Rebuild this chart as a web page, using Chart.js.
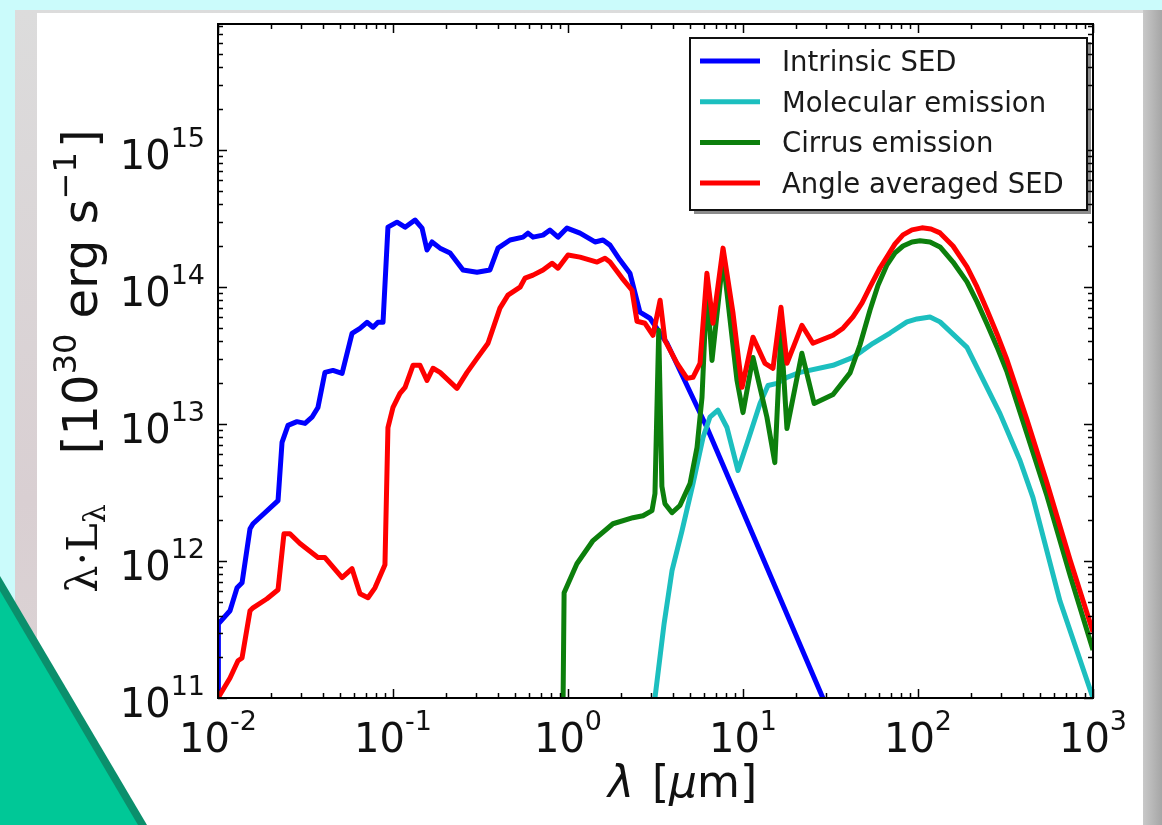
<!DOCTYPE html>
<html>
<head>
<meta charset="utf-8">
<title>SED components</title>
<script src="https://cdn.jsdelivr.net/npm/chart.js@4.4.1/dist/chart.umd.min.js"></script>
<style>
  html, body { margin: 0; width: 1162px; height: 825px; overflow: hidden; background: #cbfbfb; }
  .panel { position: absolute; left: 15px; top: 10px; width: 1147px; height: 815px;
    background: linear-gradient(to bottom, #dcdcdc, #d9cfd2 60%, #ddd6d6); }
  .panel-right { position: absolute; left: 1143px; top: 10px; width: 19px; height: 815px;
    background: linear-gradient(to right, #c8c8c8, #a6a6a6); }
  .sheet { position: absolute; left: 37px; top: 13px; width: 1106px; height: 812px; background: #fff; }
  .tri-dark { position: absolute; left: 0; top: 0; width: 1162px; height: 825px; background: #0b8f6c;
    clip-path: polygon(0 576px, 147px 825px, 0 825px); z-index: 3; }
  .tri { position: absolute; left: 0; top: 0; width: 1162px; height: 825px; background: #00c897;
    clip-path: polygon(0 591px, 138px 825px, 0 825px); z-index: 4; }
  canvas { position: absolute; left: 0; top: 0; z-index: 2; }
</style>
</head>
<body>
<div class="panel"></div>
<div class="panel-right"></div>
<div class="sheet"></div>
<canvas id="sed" width="1162" height="825"></canvas>
<div class="tri-dark"></div>
<div class="tri"></div>
<script>
// ---- data (lambda in micron, L in 1e30 erg/s) ----
const seriesLabels = ['Intrinsic SED', 'Molecular emission', 'Cirrus emission', 'Angle averaged SED'];
const seriesColors = ['#0000ff', '#1cbfbf', '#0c7f0c', '#ff0000'];

const intrinsicLambda = [0.0100, 0.01005, 0.01171, 0.01285, 0.01372, 0.01524, 0.01585, 0.02203, 0.02322, 0.02512,
  0.02826, 0.03141, 0.03444, 0.03725, 0.04084, 0.04539, 0.05117, 0.05834, 0.06478, 0.07101, 0.07691, 0.08204,
  0.08770, 0.09357, 0.1054, 0.1172, 0.1336, 0.1465, 0.1564, 0.1671, 0.1857, 0.2119, 0.2512, 0.3020, 0.3581,
  0.3981, 0.4665, 0.5534, 0.5906, 0.6310, 0.7197, 0.7888, 0.8770, 0.9869, 1.171, 1.427, 1.585, 1.738, 1.982,
  2.259, 2.576, 2.94, 3.27, 3.68, 6.22, 28.6, 35];
const intrinsicL = [8e10, 3.48e11, 4.33e11, 6.37e11, 6.93e11, 1.72e12, 1.87e12, 2.76e12, 7.33e12, 9.76e12,
  1.04e13, 1.01e13, 1.12e13, 1.32e13, 2.38e13, 2.46e13, 2.34e13, 4.59e13, 4.99e13, 5.52e13, 5.08e13, 5.52e13,
  5.52e13, 2.73e14, 2.97e14, 2.73e14, 3.08e14, 2.69e14, 1.86e14, 2.13e14, 1.92e14, 1.77e14, 1.33e14, 1.28e14, 1.33e14,
  1.92e14, 2.20e14, 2.31e14, 2.47e14, 2.31e14, 2.39e14, 2.60e14, 2.31e14, 2.69e14, 2.47e14, 2.13e14, 2.20e14, 2.02e14, 1.57e14,
  1.26e14, 6.54e13, 5.91e13, 4.83e13, 3.88e13, 9.42e12, 1.0e11, 5.3e10];

const molecularLambda = [3.14, 3.54, 3.93, 4.48, 5.18, 5.91, 6.47, 7.19, 8.10, 9.36, 10.54, 12.51, 13.89, 15.64,
  17.83, 21.17, 32.7, 42.5, 55.3, 69.2, 86.5, 98.7, 117.1, 133.6, 190.5, 294.1, 382.7, 454, 647, 1000];
const molecularL = [1.0e11, 3.48e11, 8.49e11, 1.66e12, 3.67e12, 7.96e12, 1.12e13, 1.26e13, 9.42e12, 4.57e12, 7.20e12,
  1.41e13, 1.91e13, 1.98e13, 2.19e13, 2.38e13, 2.68e13, 3.06e13, 3.88e13, 4.61e13, 5.56e13, 5.84e13, 6.04e13, 5.56e13,
  3.62e13, 1.19e13, 5.41e12, 2.90e12, 5.12e11, 1.0e11];

const cirrusLambda = [0.936, 0.950, 1.124, 1.390, 1.807, 2.351, 2.683, 3.02, 3.14, 3.30, 3.44, 3.58, 3.93, 4.36, 4.98,
  5.46, 5.83, 6.22, 6.65, 7.69, 9.24, 10.0, 11.40, 12.5, 13.7, 15.2, 16.48, 17.83, 21.7, 25.5, 32.7, 40.9, 46.6,
  53.2, 59.1, 66.5, 73.9, 82.1, 92.4, 102.7, 117.1, 133.6, 158.5, 190.5, 217.4, 247.9, 282.7, 322.6, 419.8, 546,
  739, 1000];
const cirrusL = [8e10, 5.86e11, 9.55e11, 1.41e12, 1.87e12, 2.07e12, 2.14e12, 2.33e12, 3.10e12, 4.83e13, 3.5e12, 2.62e12,
  2.25e12, 2.54e12, 3.67e12, 6.73e12, 1.56e13, 1.03e14, 2.91e13, 1.62e14, 2.08e13, 1.21e13, 3.06e13, 1.85e13,
  1.12e13, 5.22e12, 4.83e13, 9.27e12, 3.28e13, 1.41e13, 1.64e13, 2.36e13, 3.77e13, 6.79e13, 1.03e14, 1.45e14,
  1.77e14, 1.99e14, 2.13e14, 2.17e14, 2.13e14, 1.96e14, 1.52e14, 1.09e14, 7.78e13, 5.37e13, 3.65e13, 2.40e13,
  8.45e12, 2.98e12, 7.91e11, 2.24e11];

const averagedLambda = [0.0100, 0.01171, 0.01301, 0.01372, 0.01524, 0.01585, 0.01905, 0.02203, 0.02382, 0.02576,
  0.02941, 0.03725, 0.04084, 0.05117, 0.05834, 0.06478, 0.07197, 0.07889, 0.08995, 0.09357, 0.1000, 0.1096, 0.1172,
  0.1301, 0.1426, 0.1564, 0.1693, 0.1857, 0.2321, 0.2649, 0.3020, 0.3490, 0.4084, 0.4539, 0.5321, 0.5679, 0.6310,
  0.7197, 0.8110, 0.8770, 1.000, 1.171, 1.466, 1.627, 1.738, 2.036, 2.321, 2.479, 2.754, 3.06, 3.36, 3.58, 4.20,
  4.79, 5.18, 5.68, 6.22, 6.74, 7.69, 8.77, 9.87, 11.40, 13.36, 14.84, 16.48, 17.83, 21.7, 25.1, 32.7, 37.3, 42.5,
  47.9, 53.2, 60.7, 66.5, 73.9, 82.1, 92.4, 105.4, 118.7, 133.6, 158.5, 190.5, 217.4, 247.9, 282.7, 322.6, 420,
  546, 739, 1000];
const averagedL = [1.00e11, 1.40e11, 1.87e11, 1.96e11, 4.33e11, 4.55e11, 5.30e11, 6.17e11, 1.58e12, 1.58e12,
  1.34e12, 1.06e12, 1.06e12, 7.55e11, 8.78e11, 5.77e11, 5.39e11, 6.37e11, 9.40e11, 9.42e12, 1.32e13, 1.67e13, 1.85e13,
  2.68e13, 2.68e13, 2.08e13, 2.55e13, 2.38e13, 1.82e13, 2.38e13, 3.01e13, 3.88e13, 7.00e13, 8.71e13, 9.96e13, 1.16e14, 1.22e14,
  1.33e14, 1.49e14, 1.37e14, 1.71e14, 1.65e14, 1.52e14, 1.62e14, 1.52e14, 1.16e14, 9.46e13, 5.62e13, 5.43e13, 4.44e13, 8.00e13, 4.08e13, 2.77e13,
  2.15e13, 2.19e13, 2.77e13, 1.26e14, 5.43e13, 1.92e14, 6.43e13, 1.85e13, 4.30e13, 2.77e13, 2.55e13, 7.11e13, 2.77e13, 5.25e13, 3.88e13, 4.44e13, 5.0e13, 6.04e13,
  7.64e13, 1.00e14, 1.38e14, 1.66e14, 2.06e14, 2.40e14, 2.61e14, 2.70e14, 2.65e14, 2.48e14, 1.99e14, 1.40e14, 1.00e14, 6.79e13, 4.54e13, 2.93e13, 1.07e13,
  3.71e12, 1.02e12, 3.03e11];

const xTickExponents = [-2, -1, 0, 1, 2, 3];
const yTickExponents = [11, 12, 13, 14, 15];
const xRange = [1e-2, 1e3];
const yRange = [1e11, 8.3e15];

// ---- helpers ----
const SANS = '"DejaVu Sans", "Liberation Sans", sans-serif';
const SERIF = '"DejaVu Serif", "Liberation Serif", serif';

function toPoints(xs, ys) {
  return xs.map((x, i) => ({ x: x, y: ys[i] }));
}

// a run of text pieces on one baseline, each piece may be raised / lowered
function drawRuns(ctx, runs, x, y, align) {
  let total = 0;
  runs.forEach(r => { ctx.font = r.font; r.w = ctx.measureText(r.text).width + (r.gap || 0); total += r.w; });
  let cx = align === 'center' ? x - total / 2 : (align === 'right' ? x - total : x);
  runs.forEach(r => {
    ctx.font = r.font;
    ctx.fillText(r.text, cx + (r.gap || 0), y + (r.dy || 0));
    cx += r.w;
  });
}

function powerLabel(exp) {
  return [
    { text: '10', font: '40px ' + SANS },
    { text: String(exp), font: '27px ' + SANS, dy: -22 }
  ];
}

function logTicks(min, max) {
  const out = [];
  for (let e = Math.floor(Math.log10(min)); e <= Math.ceil(Math.log10(max)); e++) {
    for (let m = 1; m < 10; m++) {
      const v = m * Math.pow(10, e);
      if (v >= min * 0.999 && v <= max * 1.001) out.push({ v: v, major: m === 1 });
    }
  }
  return out;
}

// frame, inward ticks on all four sides, tick labels, axis titles
const axesDecor = {
  id: 'axesDecor',
  afterDatasetsDraw(chart) {
    const ctx = chart.ctx;
    const a = chart.chartArea;
    const xs = chart.scales.x, ys = chart.scales.y;
    ctx.save();
    ctx.strokeStyle = '#000';
    ctx.lineWidth = 1.5;
    logTicks(xs.min, xs.max).forEach(t => {
      const px = Math.round(xs.getPixelForValue(t.v)) + 0.5;
      const len = t.major ? 9 : 5;
      ctx.beginPath();
      ctx.moveTo(px, a.bottom); ctx.lineTo(px, a.bottom - len);
      ctx.moveTo(px, a.top); ctx.lineTo(px, a.top + len);
      ctx.stroke();
    });
    logTicks(ys.min, ys.max).forEach(t => {
      const py = Math.round(ys.getPixelForValue(t.v)) + 0.5;
      const len = t.major ? 9 : 5;
      ctx.beginPath();
      ctx.moveTo(a.left, py); ctx.lineTo(a.left + len, py);
      ctx.moveTo(a.right, py); ctx.lineTo(a.right - len, py);
      ctx.stroke();
    });
    ctx.lineWidth = 2;
    ctx.strokeRect(a.left, a.top, a.right - a.left, a.bottom - a.top);

    ctx.fillStyle = '#111';
    ctx.textBaseline = 'alphabetic';
    xTickExponents.forEach(e => {
      const px = xs.getPixelForValue(Math.pow(10, e));
      drawRuns(ctx, powerLabel(e), px, a.bottom + 54, 'center');
    });
    yTickExponents.forEach(e => {
      const py = ys.getPixelForValue(Math.pow(10, e));
      drawRuns(ctx, powerLabel(e), a.left - 13, py + 19, 'right');
    });

    // x title (sits a little right of the axes centre, as in the source figure)
    drawRuns(ctx, [
      { text: 'λ', font: 'italic 44px ' + SANS },
      { text: '[', font: '44px ' + SANS, gap: 18 },
      { text: 'μ', font: 'italic 44px ' + SANS },
      { text: 'm]', font: '44px ' + SANS }
    ], (a.left + a.right) / 2 + 27, a.bottom + 99, 'center');

    // y title, rotated
    ctx.save();
    ctx.translate(a.left - 121, (a.top + a.bottom) / 2);
    ctx.rotate(-Math.PI / 2);
    drawRuns(ctx, [
      { text: 'λ·L', font: '43px ' + SERIF },
      { text: 'λ', font: '30px ' + SERIF, dy: 8 },
      { text: '[10', font: '48px ' + SANS, gap: 50 },
      { text: '30', font: '32px ' + SANS, dy: -21 },
      { text: ' erg s', font: '48px ' + SANS },
      { text: '−1', font: '32px ' + SANS, dy: -21 },
      { text: ']', font: '48px ' + SANS, gap: 4 }
    ], 0, 0, 'center');
    ctx.restore();
    ctx.restore();
  }
};

// legend box in the upper right of the axes
const boxLegend = {
  id: 'boxLegend',
  afterDraw(chart) {
    const ctx = chart.ctx;
    const a = chart.chartArea;
    const right = a.right - 6, top = a.top + 14;
    const w = 397, h = 172;
    const left = right - w;
    ctx.save();
    ctx.fillStyle = 'rgba(0,0,0,0.45)';
    ctx.fillRect(left + 4, top + 4, w, h);
    ctx.fillStyle = '#fff';
    ctx.fillRect(left, top, w, h);
    ctx.strokeStyle = '#111';
    ctx.lineWidth = 2;
    ctx.strokeRect(left, top, w, h);
    ctx.font = '27.5px ' + SANS;
    ctx.textBaseline = 'alphabetic';
    chart.data.datasets.forEach((ds, i) => {
      const y = top + 23 + i * 40.7;
      ctx.strokeStyle = ds.borderColor;
      ctx.lineWidth = 5;
      ctx.beginPath();
      ctx.moveTo(left + 10, y); ctx.lineTo(left + 70, y);
      ctx.stroke();
      ctx.fillStyle = '#1a1a1a';
      ctx.fillText(ds.label, left + 92, y + 10);
    });
    ctx.restore();
  }
};

const seriesData = [
  toPoints(intrinsicLambda, intrinsicL),
  toPoints(molecularLambda, molecularL),
  toPoints(cirrusLambda, cirrusL),
  toPoints(averagedLambda, averagedL)
];

new Chart(document.getElementById('sed'), {
  type: 'line',
  data: {
    datasets: seriesLabels.map((label, i) => ({
      label: label,
      data: seriesData[i],
      borderColor: seriesColors[i],
      borderWidth: 5,
      pointRadius: 0,
      tension: 0,
      fill: false,
      borderJoinStyle: 'round',
      order: 4 - i
    }))
  },
  options: {
    responsive: false,
    animation: false,
    devicePixelRatio: 1,
    layout: { padding: { left: 0, top: 24, right: 69, bottom: 0 } },
    scales: {
      x: {
        type: 'logarithmic', min: xRange[0], max: xRange[1],
        grid: { display: false }, border: { display: false }, ticks: { display: false },
        afterFit: s => { s.height = 127; }
      },
      y: {
        type: 'logarithmic', min: yRange[0], max: yRange[1],
        grid: { display: false }, border: { display: false }, ticks: { display: false },
        afterFit: s => { s.width = 218; }
      }
    },
    plugins: { legend: { display: false }, tooltip: { enabled: false } }
  },
  plugins: [axesDecor, boxLegend]
});
</script>
</body>
</html>
